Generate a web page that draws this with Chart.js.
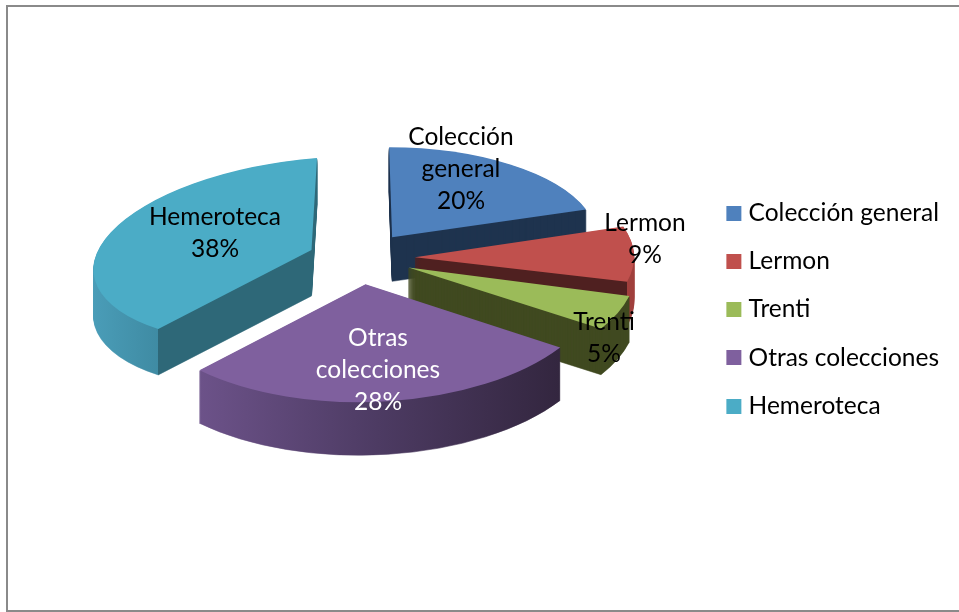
<!DOCTYPE html>
<html>
<head>
<meta charset="utf-8">
<style>
  html, body { margin: 0; padding: 0; background: #fff; }
  #frame { position: absolute; left: 6px; top: 5px; width: 953px; height: 607px; border-left: 2px solid #8a8a8a; border-top: 2px solid #8a8a8a; border-bottom: 2px solid #8a8a8a; box-sizing: border-box; }
  canvas { position: absolute; left: 0; top: 0; }
</style>
</head>
<body>
<div id="frame"></div>
<canvas id="chart" width="959" height="612"></canvas>
<script src="https://cdn.jsdelivr.net/npm/chart.js@4/dist/chart.umd.min.js"></script>
<script>
const CATEGORIES = ['Colección general', 'Lermon', 'Trenti', 'Otras colecciones', 'Hemeroteca'];
const VALUES = [20, 9, 5, 28, 38];
const COLORS = ['#4f81bd', '#c0504d', '#9bbb59', '#7f609e', '#4bacc6'];

// label text, split the way the picture wraps it
const LABEL_LINES = [['Colección', 'general', '20%'], ['Lermon', '9%'], ['Trenti', '5%'], ['Otras', 'colecciones', '28%'], ['Hemeroteca', '38%']];
const LABEL_COLORS = ['#000', '#000', '#000', '#fff', '#000'];
const LABEL_POS = [[461, 169], [645, 239], [604, 338], [378, 370], [215, 233]];

const FONT = 'Lato';
const FONT_SIZE = 24.5;
const LINE_GAP = 32.3;

// fake 3D: each slice gets its own horizontal and vertical radius because front slices look bigger
const CENTER = { x: 358, y: 258 };
const TILT = 0.44;
const EXPLODE = [58, 57, 55, 60, 50];
const RADIUS_X = [205, 219, 228, 235, 218];
const RADIUS_Y = [90, 99, 114, 118, 92];
const SHEAR = [0, 0, 0, 0, -0.08];
const SKEW = [0.033, 0, 0, -0.06, -0.06];
const DEPTH = [44, 44, 46, 53, 46];

function wallFill(ctx, el, i) {
  const R = el.outerRadius;
  const g = ctx.createLinearGradient(el.x - R, 0, el.x + R, 0);
  const startFrac = (Math.cos(el.startAngle) + 1) / 2;
  const endFrac = (Math.cos(el.endAngle) + 1) / 2;
  if (i === 0) return '#1f344f';
  if (i === 1) {
    g.addColorStop(0, '#4f2020');
    g.addColorStop(endFrac, '#4f2020');
    g.addColorStop(endFrac, '#a03f3c');
    g.addColorStop(1, '#a03f3c');
    return g;
  }
  if (i === 2) return '#404a20';
  if (i === 3) {
    g.addColorStop(endFrac, '#6c5289');
    g.addColorStop((endFrac + startFrac) / 2, '#4d3b63');
    g.addColorStop(startFrac, '#33263f');
    return g;
  }
  g.addColorStop(0, '#4a9db8');
  g.addColorStop(startFrac, '#3f8ba3');
  g.addColorStop(startFrac, '#2e6878');
  g.addColorStop(1, '#2e6878');
  return g;
}

const pie3d = {
  id: 'pie3d',
  beforeDatasetsDraw(chart) {
    const ctx = chart.ctx;
    const arcs = chart.getDatasetMeta(0).data;
    arcs.forEach((el, i) => {
      const mid = (el.startAngle + el.endAngle) / 2;
      const tx = CENTER.x + Math.cos(mid) * EXPLODE[i];
      const ty = CENTER.y + Math.sin(mid) * EXPLODE[i] * TILT;
      const sx = RADIUS_X[i] / el.outerRadius;
      const sy = RADIUS_Y[i] / el.outerRadius;
      const b = SHEAR[i] * sx;
      const c = SKEW[i] * sy;
      const place = (dy) => {
        ctx.setTransform(sx, b, c, sy, tx - sx * el.x - c * el.y, ty + dy - b * el.x - sy * el.y);
      };
      const top = el.options;
      ctx.save();
      place(0);
      const wall = wallFill(ctx, el, i);
      // thin border of the same fill, so the wedge tip does not leave a pale fringe when stacked
      el.options = { ...top, backgroundColor: wall, borderColor: wall, borderWidth: 1 };
      for (let d = DEPTH[i]; d > 0; d--) {
        place(d);
        el.draw(ctx);
      }
      el.options = top;
      place(0);
      el.draw(ctx);
      ctx.restore();
    });
    return false;
  },
  afterDraw(chart) {
    const ctx = chart.ctx;
    ctx.save();
    ctx.font = FONT_SIZE + 'px ' + FONT;
    ctx.textAlign = 'center';
    ctx.textBaseline = 'middle';
    LABEL_LINES.forEach((lines, i) => {
      ctx.fillStyle = LABEL_COLORS[i];
      lines.forEach((line, j) => {
        const y = LABEL_POS[i][1] + (j - (lines.length - 1) / 2) * LINE_GAP;
        ctx.fillText(line, LABEL_POS[i][0], y);
      });
    });
    ctx.restore();
  }
};

// legend swatch sits closer to its text than Chart.js leaves room for
function swatch(color) {
  const c = document.createElement('canvas');
  c.width = 30;
  c.height = 15;
  const g = c.getContext('2d');
  g.fillStyle = color;
  g.fillRect(10, 0, 15, 15);
  return c;
}

new Chart(document.getElementById('chart'), {
  type: 'pie',
  data: {
    labels: CATEGORIES,
    datasets: [{ data: VALUES, backgroundColor: COLORS, borderWidth: 0 }],
  },
  options: {
    responsive: false,
    animation: false,
    layout: { padding: { top: 7, right: 10 } },
    plugins: {
      tooltip: { enabled: false },
      legend: {
        position: 'right',
        labels: {
          color: '#000',
          font: { family: FONT, size: FONT_SIZE },
          boxWidth: 10,
          boxHeight: 15,
          padding: 23.75,
          usePointStyle: true,
          generateLabels: (chart) => CATEGORIES.map((text, i) => ({
            text,
            fillStyle: COLORS[i],
            strokeStyle: COLORS[i],
            lineWidth: 0,
            pointStyle: swatch(COLORS[i]),
            index: i,
            hidden: false,
          })),
        },
      },
    },
  },
  plugins: [pie3d],
});
</script>
</body>
</html>
